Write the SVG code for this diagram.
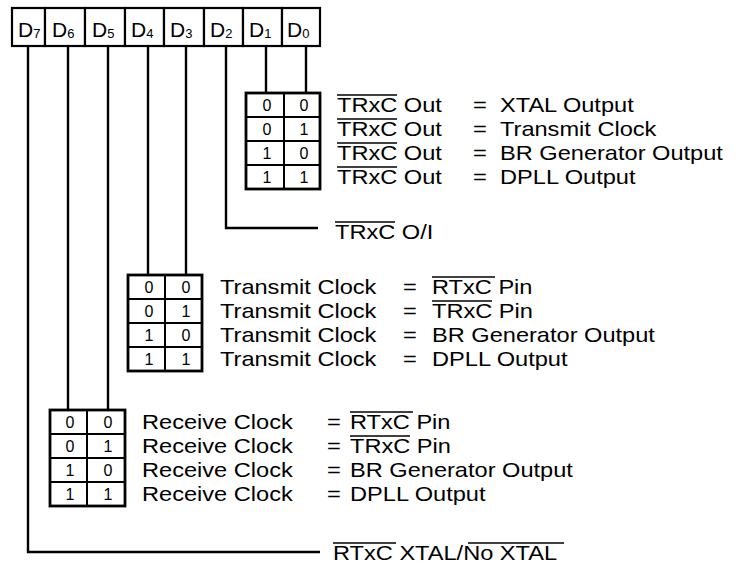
<svg xmlns="http://www.w3.org/2000/svg" width="742" height="569" viewBox="0 0 742 569">
<style>
text{font-family:"Liberation Sans",Arial,sans-serif;fill:#000}
.hd{font-size:21px}
.sb{font-size:13px}
.t{font-size:20px}
.dg{font-size:16px;text-anchor:middle}
.cell{fill:#fff;stroke:#000;stroke-width:2.2}
.tb{fill:#fff;stroke:#000;stroke-width:2.8}
.in{stroke:#000;stroke-width:2}
.wire{fill:none;stroke:#000;stroke-width:2.4}
.ov{stroke:#000;stroke-width:1.5}
</style>
<rect width="742" height="569" fill="#fff"/>
<g id="connectors">
<path class="wire" d="M28,46V552H320"/>
<path class="wire" d="M68,46V410"/>
<path class="wire" d="M108,46V410"/>
<path class="wire" d="M148,46V275"/>
<path class="wire" d="M186,46V275"/>
<path class="wire" d="M226,46V228H318"/>
<path class="wire" d="M266,46V93"/>
<path class="wire" d="M306,46V93"/>
</g>
<g id="register">
<rect class="cell" x="12" y="8" width="33" height="38"/>
<rect class="cell" x="45" y="8" width="40" height="38"/>
<rect class="cell" x="85" y="8" width="40" height="38"/>
<rect class="cell" x="125" y="8" width="39" height="38"/>
<rect class="cell" x="164" y="8" width="40" height="38"/>
<rect class="cell" x="204" y="8" width="39" height="38"/>
<rect class="cell" x="243" y="8" width="39" height="38"/>
<rect class="cell" x="282" y="8" width="38" height="38"/>
<text class="hd" x="18" y="37">D<tspan class="sb" dy="1">7</tspan></text>
<text class="hd" x="52" y="37">D<tspan class="sb" dy="1">6</tspan></text>
<text class="hd" x="92" y="37">D<tspan class="sb" dy="1">5</tspan></text>
<text class="hd" x="131" y="37">D<tspan class="sb" dy="1">4</tspan></text>
<text class="hd" x="170" y="37">D<tspan class="sb" dy="1">3</tspan></text>
<text class="hd" x="210" y="37">D<tspan class="sb" dy="1">2</tspan></text>
<text class="hd" x="249" y="37">D<tspan class="sb" dy="1">1</tspan></text>
<text class="hd" x="287" y="37">D<tspan class="sb" dy="1">0</tspan></text>
</g>
<g id="table-trxc-out">
<rect class="tb" x="246" y="93" width="74" height="96"/>
<line class="in" x1="284" y1="93" x2="284" y2="189"/>
<line class="in" x1="246" y1="117" x2="320" y2="117"/>
<line class="in" x1="246" y1="141" x2="320" y2="141"/>
<line class="in" x1="246" y1="165" x2="320" y2="165"/>
<text class="dg" x="267" y="111">0</text><text class="dg" x="304" y="111">0</text>
<text class="dg" x="267" y="135">0</text><text class="dg" x="304" y="135">1</text>
<text class="dg" x="267" y="159">1</text><text class="dg" x="304" y="159">0</text>
<text class="dg" x="267" y="183">1</text><text class="dg" x="304" y="183">1</text>
<text class="t" transform="translate(337,112) scale(1.18,1)">TRxC Out</text>
<text class="t" transform="translate(337,136) scale(1.18,1)">TRxC Out</text>
<text class="t" transform="translate(337,160) scale(1.18,1)">TRxC Out</text>
<text class="t" transform="translate(337,184) scale(1.18,1)">TRxC Out</text>
<line class="ov" x1="337" y1="95" x2="397" y2="95"/>
<line class="ov" x1="337" y1="119" x2="397" y2="119"/>
<line class="ov" x1="337" y1="143" x2="397" y2="143"/>
<line class="ov" x1="337" y1="167" x2="397" y2="167"/>
<text class="t" transform="translate(473,112) scale(1.18,1)">=</text>
<text class="t" transform="translate(473,136) scale(1.18,1)">=</text>
<text class="t" transform="translate(473,160) scale(1.18,1)">=</text>
<text class="t" transform="translate(473,184) scale(1.18,1)">=</text>
<text class="t" transform="translate(500,112) scale(1.18,1)">XTAL Output</text>
<text class="t" transform="translate(500,136) scale(1.18,1)">Transmit Clock</text>
<text class="t" transform="translate(500,160) scale(1.18,1)">BR Generator Output</text>
<text class="t" transform="translate(500,184) scale(1.18,1)">DPLL Output</text>
</g>
<g id="label-trxc-oi">
<text class="t" transform="translate(335,239) scale(1.18,1)">TRxC O/I</text>
<line class="ov" x1="335" y1="222" x2="395" y2="222"/>
</g>
<g id="table-transmit">
<rect class="tb" x="128" y="275" width="74" height="96"/>
<line class="in" x1="165" y1="275" x2="165" y2="371"/>
<line class="in" x1="128" y1="299" x2="202" y2="299"/>
<line class="in" x1="128" y1="323" x2="202" y2="323"/>
<line class="in" x1="128" y1="347" x2="202" y2="347"/>
<text class="dg" x="149" y="293">0</text><text class="dg" x="186" y="293">0</text>
<text class="dg" x="149" y="317">0</text><text class="dg" x="186" y="317">1</text>
<text class="dg" x="149" y="341">1</text><text class="dg" x="186" y="341">0</text>
<text class="dg" x="149" y="365">1</text><text class="dg" x="186" y="365">1</text>
<text class="t" transform="translate(220,294) scale(1.18,1)">Transmit Clock</text>
<text class="t" transform="translate(220,318) scale(1.18,1)">Transmit Clock</text>
<text class="t" transform="translate(220,342) scale(1.18,1)">Transmit Clock</text>
<text class="t" transform="translate(220,366) scale(1.18,1)">Transmit Clock</text>
<text class="t" transform="translate(403,294) scale(1.18,1)">=</text>
<text class="t" transform="translate(403,318) scale(1.18,1)">=</text>
<text class="t" transform="translate(403,342) scale(1.18,1)">=</text>
<text class="t" transform="translate(403,366) scale(1.18,1)">=</text>
<text class="t" transform="translate(432,294) scale(1.18,1)">RTxC Pin</text>
<text class="t" transform="translate(432,318) scale(1.18,1)">TRxC Pin</text>
<text class="t" transform="translate(432,342) scale(1.18,1)">BR Generator Output</text>
<text class="t" transform="translate(432,366) scale(1.18,1)">DPLL Output</text>
<line class="ov" x1="432" y1="277" x2="495" y2="277"/>
<line class="ov" x1="432" y1="301" x2="492" y2="301"/>
</g>
<g id="table-receive">
<rect class="tb" x="50" y="410" width="75" height="96"/>
<line class="in" x1="87" y1="410" x2="87" y2="506"/>
<line class="in" x1="50" y1="434" x2="125" y2="434"/>
<line class="in" x1="50" y1="458" x2="125" y2="458"/>
<line class="in" x1="50" y1="482" x2="125" y2="482"/>
<text class="dg" x="70" y="428">0</text><text class="dg" x="108" y="428">0</text>
<text class="dg" x="70" y="452">0</text><text class="dg" x="108" y="452">1</text>
<text class="dg" x="70" y="476">1</text><text class="dg" x="108" y="476">0</text>
<text class="dg" x="70" y="500">1</text><text class="dg" x="108" y="500">1</text>
<text class="t" transform="translate(142,429) scale(1.18,1)">Receive Clock</text>
<text class="t" transform="translate(142,453) scale(1.18,1)">Receive Clock</text>
<text class="t" transform="translate(142,477) scale(1.18,1)">Receive Clock</text>
<text class="t" transform="translate(142,501) scale(1.18,1)">Receive Clock</text>
<text class="t" transform="translate(327,429) scale(1.18,1)">=</text>
<text class="t" transform="translate(327,453) scale(1.18,1)">=</text>
<text class="t" transform="translate(327,477) scale(1.18,1)">=</text>
<text class="t" transform="translate(327,501) scale(1.18,1)">=</text>
<text class="t" transform="translate(350,429) scale(1.18,1)">RTxC Pin</text>
<text class="t" transform="translate(350,453) scale(1.18,1)">TRxC Pin</text>
<text class="t" transform="translate(350,477) scale(1.18,1)">BR Generator Output</text>
<text class="t" transform="translate(350,501) scale(1.18,1)">DPLL Output</text>
<line class="ov" x1="350" y1="412" x2="413" y2="412"/>
<line class="ov" x1="350" y1="436" x2="410" y2="436"/>
</g>
<g id="label-rtxc-xtal">
<text class="t" transform="translate(333,560) scale(1.18,1)">RTxC XTAL/No XTAL</text>
<line class="ov" x1="333" y1="543" x2="396" y2="543"/>
<line class="ov" x1="468" y1="543" x2="564" y2="543"/>
</g>
</svg>
